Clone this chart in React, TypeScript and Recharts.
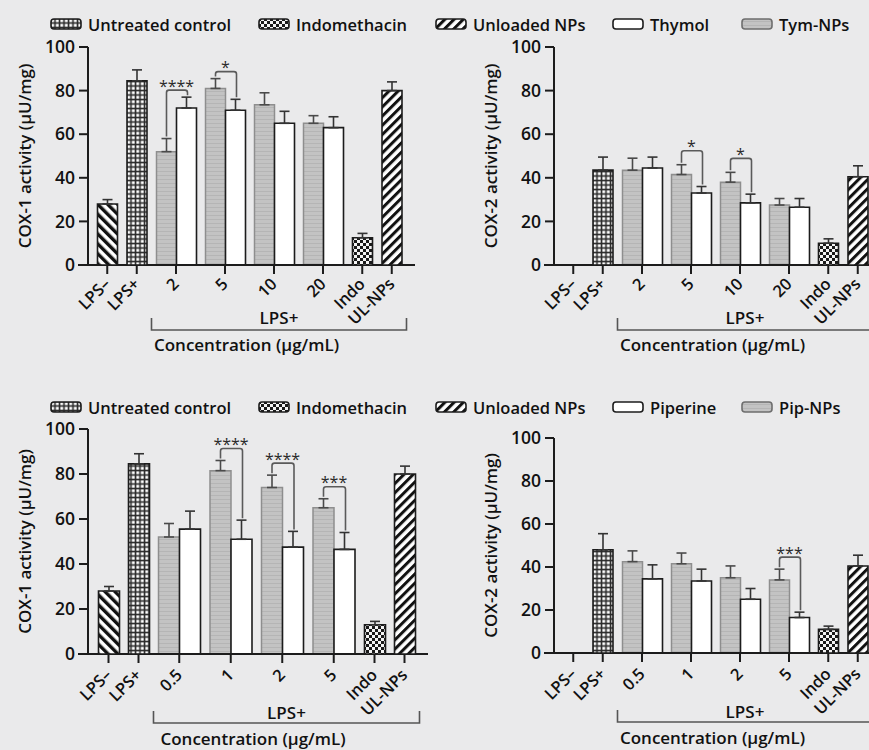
import React from 'react';
import { BarChart, Bar, XAxis, YAxis, ErrorBar, Cell, LabelList } from 'recharts';

// group names and kinds of the single (control) bars
const controlGroups = ['LPS–', 'LPS+', 'Indo', 'UL-NPs'];
const controlKinds = ['lpsNeg', 'untreated', 'indo', 'unloaded'];
const thymolDoses = ['2', '5', '10', '20'];
const piperineDoses = ['0.5', '1', '2', '5'];

// Thymol – COX-1
const thyCox1Ctrl = [28, 84.5, 12.5, 80];
const thyCox1CtrlSd = [2, 5, 2, 4];
const thyCox1Nps = [52, 81, 73.5, 65];
const thyCox1NpsSd = [6, 4.5, 5.5, 3.5];
const thyCox1Free = [72, 71, 65, 63];
const thyCox1FreeSd = [5, 5, 5.5, 5];
const thyCox1Sig = ['****', '*', '', ''];

// Thymol – COX-2
const thyCox2Ctrl = [0, 43.5, 10, 40.5];
const thyCox2CtrlSd = [0, 6, 2, 5];
const thyCox2Nps = [43.5, 41.5, 38, 27.5];
const thyCox2NpsSd = [5.5, 4.5, 4.5, 3];
const thyCox2Free = [44.5, 33, 28.5, 26.5];
const thyCox2FreeSd = [5, 3, 4, 4];
const thyCox2Sig = ['', '*', '*', ''];

// Piperine – COX-1
const pipCox1Ctrl = [28, 84.5, 13, 80];
const pipCox1CtrlSd = [2, 4.5, 1.5, 3.5];
const pipCox1Nps = [52, 81.5, 74, 65];
const pipCox1NpsSd = [6, 4.5, 5.5, 4];
const pipCox1Free = [55.5, 51, 47.5, 46.5];
const pipCox1FreeSd = [8, 8.5, 7, 7.5];
const pipCox1Sig = ['', '****', '****', '***'];

// Piperine – COX-2
const pipCox2Ctrl = [0, 48, 11, 40.5];
const pipCox2CtrlSd = [0, 7.5, 1.5, 5];
const pipCox2Nps = [42.5, 41.5, 35, 34];
const pipCox2NpsSd = [5, 5, 5.5, 5];
const pipCox2Free = [34.5, 33.5, 25, 16.5];
const pipCox2FreeSd = [6.5, 5.5, 5, 2.5];
const pipCox2Sig = ['', '', '', '***'];

const yTicks = [0, 20, 40, 60, 80, 100];
const thymolLegend = ['Untreated control', 'Indomethacin', 'Unloaded NPs', 'Thymol', 'Tym-NPs'];
const piperineLegend = ['Untreated control', 'Indomethacin', 'Unloaded NPs', 'Piperine', 'Pip-NPs'];

const FILL: Record<string, string> = {
  lpsNeg: 'url(#hatchBack)',
  untreated: 'url(#gridFill)',
  indo: 'url(#checkFill)',
  unloaded: 'url(#hatchFwd)',
  nps: 'url(#npGrey)',
  free: '#ffffff',
};
const legendFills = ['url(#gridFill)', 'url(#checkFill)', 'url(#hatchFwd)', '#ffffff', 'url(#npGrey)'];
const legendLefts = [50, 258, 435, 612, 741];

const BOX_W = 440;
const AXIS_H = 60;
const INK = '#1c1c1c';

type Geo = {
  boxLeft: number; boxTop: number; boxH: number;
  plotTop: number; plotBottom: number; // page y
  yAxisX: number; lineLeft: number; plotRight: number; // box x
  bar: number; start: number; sBand: number; pBand: number;
  tickLift: number; bracketDy: number; lpsDy: number; concDy: number; sigGap: number;
};

const topGeo = {
  boxTop: 0, boxH: 380, plotTop: 47, plotBottom: 265,
  yAxisX: 88, lineLeft: 78, plotRight: 415,
  bar: 20, start: 92.5, sBand: 29.5, pBand: 49,
  tickLift: 9, bracketDy: 65, lpsDy: 59, concDy: 86,
};

const geoTL: Geo = { ...topGeo, boxLeft: 0, sigGap: 7 };
const geoTR: Geo = { ...topGeo, boxLeft: 466, sigGap: 14 };
const geoBL: Geo = {
  boxLeft: 0, boxTop: 380, boxH: 370, plotTop: 429, plotBottom: 654,
  yAxisX: 88, lineLeft: 78, plotRight: 428,
  bar: 21, start: 93.5, sBand: 30, pBand: 51.5,
  tickLift: 11, bracketDy: 69, lpsDy: 65, concDy: 91, sigGap: 12,
};
const geoBR: Geo = { ...topGeo, boxLeft: 466, boxTop: 380, boxH: 370, plotTop: 438, plotBottom: 653, tickLift: 11, bracketDy: 69, lpsDy: 65, concDy: 91, sigGap: 12 };

const RotTick = (props: any) => {
  const { x, y, payload, lift } = props;
  return (
    <g transform={`translate(${x + 4},${y + lift}) rotate(-45)`}>
      <text x={0} y={0} textAnchor="end" fontSize={16.5} fontWeight={600} fill="#111">
        {payload.value}
      </text>
    </g>
  );
};

function SigBracket(props: any) {
  const { index, rows, gap } = props;
  const vb = props.viewBox ?? props;
  const { x, y, width, height } = vb;
  const r = rows[index];
  if (!r || !r.sig || !height) return null;
  const base = y + height;
  const ppu = height / r.free;
  const npTop = base - (r.nps + r.npsSd) * ppu;
  const frTop = base - (r.free + r.freeSd) * ppu;
  const level = Math.min(npTop, frTop) - gap;
  const lx = x - width / 2;
  const rx = x + width / 2 + 1;
  return (
    <g>
      <path
        d={`M${lx},${npTop - 2} V${level + 2.5} Q${lx},${level} ${lx + 2.5},${level} H${rx - 2.5} Q${rx},${level} ${rx},${level + 2.5} V${frTop - 2}`}
        fill="none"
        stroke="#5a5a5a"
        strokeWidth={1.6}
      />
      <text x={x} y={level + 1.5} textAnchor="middle" fontSize={16} fill="#2a2a2a">
        {r.sig}
      </text>
    </g>
  );
}

function Panel(props: {
  geo: Geo; yLabel: string; doses: string[];
  ctrl: number[]; ctrlSd: number[]; nps: number[]; npsSd: number[]; free: number[]; freeSd: number[]; sig: string[];
}) {
  const { geo, yLabel, doses, ctrl, ctrlSd, nps, npsSd, free, freeSd, sig } = props;
  const ctrlRows = controlGroups.map((g, i) => ({ group: g, kind: controlKinds[i], value: ctrl[i], sd: ctrlSd[i] }));
  const leftRows = ctrlRows.slice(0, 2);
  const rightRows = ctrlRows.slice(2);
  const pairRows = doses.map((d, i) => ({ dose: d, nps: nps[i], npsSd: npsSd[i], free: free[i], freeSd: freeSd[i], sig: sig[i] }));

  const pairStart = geo.start + 2 * geo.sBand;
  const pairEnd = pairStart + 4 * geo.pBand;
  const rightEnd = pairEnd + 2 * geo.sBand;
  const margin = (left: number) => ({
    top: geo.plotTop - geo.boxTop,
    right: BOX_W - geo.plotRight,
    bottom: geo.boxTop + geo.boxH - geo.plotBottom - AXIS_H,
    left,
  });
  const tickLine = { stroke: INK, strokeWidth: 2 };
  const tick = (p: any) => <RotTick {...p} lift={geo.tickLift} />;
  const box: React.CSSProperties = { position: 'absolute', left: geo.boxLeft, top: geo.boxTop };

  const axisNote = (p: any) => {
    const vb = p.viewBox;
    const y = vb.y;
    const by = y + geo.bracketDy;
    return (
      <g>
        <path
          d={`M${pairStart},${by - 12} V${by} H${rightEnd} V${by - 12}`}
          fill="none"
          stroke="#555"
          strokeWidth={1.6}
        />
        <text x={(pairStart + rightEnd) / 2} y={y + geo.lpsDy} textAnchor="middle" fontSize={17} fontWeight={600} fill="#111">
          LPS+
        </text>
        <text x={vb.x + vb.width / 2} y={y + geo.concDy} textAnchor="middle" fontSize={17} fontWeight={600} fill="#111">
          Concentration (μg/mL)
        </text>
      </g>
    );
  };

  const yLabelContent = (p: any) => {
    const vb = p.viewBox;
    const cx = vb.x + 24;
    const cy = vb.y + vb.height / 2;
    return (
      <text x={cx} y={cy} textAnchor="middle" dominantBaseline="central" transform={`rotate(-90 ${cx} ${cy})`} fontSize={17} fontWeight={600} fill="#111">
        {yLabel}
      </text>
    );
  };

  return (
    <>
      {/* paired dose bars, x axis line and bracket */}
      <div style={box}>
        <BarChart width={BOX_W} height={geo.boxH} data={pairRows} margin={margin(geo.lineLeft)} barGap={0}>
          <YAxis hide domain={[0, 100]} allowDataOverflow />
          <XAxis
            dataKey="dose"
            height={AXIS_H}
            interval={0}
            padding={{ left: pairStart - geo.lineLeft, right: geo.plotRight - pairEnd }}
            axisLine={{ stroke: INK, strokeWidth: 2 }}
            tickLine={tickLine}
            tickSize={9}
            tick={tick}
            label={axisNote}
          />
          <Bar dataKey="nps" barSize={geo.bar} fill={FILL.nps} stroke="#8e8e8e" strokeWidth={1.5} isAnimationActive={false}>
            <ErrorBar dataKey={(d: any) => [0, d.npsSd]} width={5} stroke="#4a4a4a" strokeWidth={1.6} />
          </Bar>
          <Bar dataKey="free" barSize={geo.bar} fill={FILL.free} stroke={INK} strokeWidth={1.6} isAnimationActive={false}>
            <ErrorBar dataKey={(d: any) => [0, d.freeSd]} width={5} stroke="#333" strokeWidth={1.6} />
            <LabelList dataKey="sig" content={(p: any) => <SigBracket {...p} rows={pairRows} gap={geo.sigGap} />} />
          </Bar>
        </BarChart>
      </div>

      {/* LPS– / LPS+ with the y axis */}
      <div style={box}>
        <BarChart width={BOX_W} height={geo.boxH} data={leftRows} margin={margin(0)} barGap={0}>
          <YAxis
            width={geo.yAxisX}
            domain={[0, 100]}
            ticks={yTicks}
            allowDataOverflow
            tickSize={9}
            tickMargin={4}
            axisLine={{ stroke: INK, strokeWidth: 2 }}
            tickLine={tickLine}
            tick={{ fill: '#111', fontSize: 17.5, fontWeight: 600 }}
            label={yLabelContent}
          />
          <XAxis
            dataKey="group"
            height={AXIS_H}
            interval={0}
            padding={{ left: geo.start - geo.yAxisX, right: geo.plotRight - (geo.start + 2 * geo.sBand) }}
            axisLine={false}
            tickLine={tickLine}
            tickSize={9}
            tick={tick}
          />
          <Bar dataKey="value" barSize={geo.bar} stroke={INK} strokeWidth={1.6} isAnimationActive={false}>
            {leftRows.map((r) => (
              <Cell key={r.group} fill={FILL[r.kind]} />
            ))}
            <ErrorBar dataKey={(d: any) => [0, d.sd]} width={5} stroke="#333" strokeWidth={1.6} />
          </Bar>
        </BarChart>
      </div>

      {/* Indo / UL-NPs */}
      <div style={box}>
        <BarChart width={BOX_W} height={geo.boxH} data={rightRows} margin={margin(geo.lineLeft)} barGap={0}>
          <YAxis hide domain={[0, 100]} allowDataOverflow />
          <XAxis
            dataKey="group"
            height={AXIS_H}
            interval={0}
            padding={{ left: pairEnd - geo.lineLeft, right: geo.plotRight - rightEnd }}
            axisLine={false}
            tickLine={tickLine}
            tickSize={9}
            tick={tick}
          />
          <Bar dataKey="value" barSize={geo.bar} stroke={INK} strokeWidth={1.6} isAnimationActive={false}>
            {rightRows.map((r) => (
              <Cell key={r.group} fill={FILL[r.kind]} />
            ))}
            <ErrorBar dataKey={(d: any) => [0, d.sd]} width={5} stroke="#333" strokeWidth={1.6} />
          </Bar>
        </BarChart>
      </div>
    </>
  );
}

function LegendRow({ labels, top }: { labels: string[]; top: number }) {
  return (
    <>
      {labels.map((lab, i) => (
        <div key={lab} style={{ position: 'absolute', left: legendLefts[i], top, height: 22, display: 'flex', alignItems: 'center' }}>
          <svg width={32} height={12} style={{ marginRight: 6 }}>
            <rect
              x={1}
              y={1}
              width={30}
              height={10}
              rx={3}
              fill={legendFills[i]}
              stroke={i === 4 ? '#6e6e6e' : INK}
              strokeWidth={1.6}
            />
          </svg>
          <span style={{ fontSize: 16.5, fontWeight: 600, color: '#111', whiteSpace: 'nowrap' }}>{lab}</span>
        </div>
      ))}
    </>
  );
}

function Patterns() {
  return (
    <svg width={0} height={0} style={{ position: 'absolute' }}>
      <defs>
        <pattern id="hatchBack" width={7} height={7} patternUnits="userSpaceOnUse" patternTransform="rotate(-45)">
          <rect width={7} height={7} fill="#fff" />
          <rect width={3.4} height={7} fill="#111" />
        </pattern>
        <pattern id="hatchFwd" width={6.5} height={6.5} patternUnits="userSpaceOnUse" patternTransform="rotate(45)">
          <rect width={6.5} height={6.5} fill="#fff" />
          <rect width={3} height={6.5} fill="#111" />
        </pattern>
        <pattern id="gridFill" width={4.5} height={4.5} patternUnits="userSpaceOnUse">
          <rect width={4.5} height={4.5} fill="#2a2a2a" />
          <rect x={1.3} y={1.3} width={2.9} height={2.9} fill="#fff" />
        </pattern>
        <pattern id="checkFill" width={6} height={6} patternUnits="userSpaceOnUse">
          <rect width={6} height={6} fill="#f4f4f4" />
          <rect width={3} height={3} fill="#1a1a1a" />
          <rect x={3} y={3} width={3} height={3} fill="#1a1a1a" />
        </pattern>
        <pattern id="npGrey" width={4} height={4} patternUnits="userSpaceOnUse">
          <rect width={4} height={4} fill="#c3c3c3" />
          <rect y={3} width={4} height={1} fill="#b5b5b5" />
        </pattern>
      </defs>
    </svg>
  );
}

export default function App() {
  return (
    <div
      style={{
        position: 'relative',
        width: 869,
        height: 750,
        overflow: 'hidden',
        background: '#eaeaeb',
        fontFamily: '"Open Sans", "Noto Sans", sans-serif',
      }}
    >
      <style>{'body{margin:0;}'}</style>
      <Patterns />
      <Panel
        geo={geoTL}
        yLabel="COX-1 activity (μU/mg)"
        doses={thymolDoses}
        ctrl={thyCox1Ctrl}
        ctrlSd={thyCox1CtrlSd}
        nps={thyCox1Nps}
        npsSd={thyCox1NpsSd}
        free={thyCox1Free}
        freeSd={thyCox1FreeSd}
        sig={thyCox1Sig}
      />
      <Panel
        geo={geoTR}
        yLabel="COX-2 activity (μU/mg)"
        doses={thymolDoses}
        ctrl={thyCox2Ctrl}
        ctrlSd={thyCox2CtrlSd}
        nps={thyCox2Nps}
        npsSd={thyCox2NpsSd}
        free={thyCox2Free}
        freeSd={thyCox2FreeSd}
        sig={thyCox2Sig}
      />
      <Panel
        geo={geoBL}
        yLabel="COX-1 activity (μU/mg)"
        doses={piperineDoses}
        ctrl={pipCox1Ctrl}
        ctrlSd={pipCox1CtrlSd}
        nps={pipCox1Nps}
        npsSd={pipCox1NpsSd}
        free={pipCox1Free}
        freeSd={pipCox1FreeSd}
        sig={pipCox1Sig}
      />
      <Panel
        geo={geoBR}
        yLabel="COX-2 activity (μU/mg)"
        doses={piperineDoses}
        ctrl={pipCox2Ctrl}
        ctrlSd={pipCox2CtrlSd}
        nps={pipCox2Nps}
        npsSd={pipCox2NpsSd}
        free={pipCox2Free}
        freeSd={pipCox2FreeSd}
        sig={pipCox2Sig}
      />
      <LegendRow labels={thymolLegend} top={13} />
      <LegendRow labels={piperineLegend} top={396} />
    </div>
  );
}
